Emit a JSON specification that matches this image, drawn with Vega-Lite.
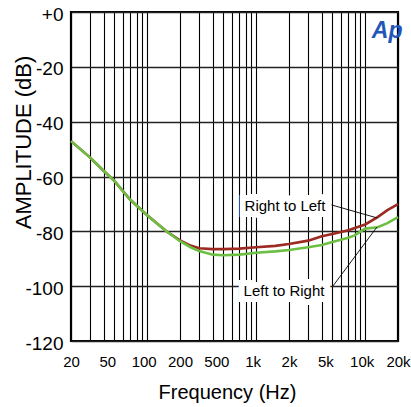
{
  "$schema": "https://vega.github.io/schema/vega-lite/v6.json",
  "width": 327,
  "height": 329,
  "autosize": {"type": "none"},
  "padding": {"left": 71, "top": 12, "right": 13, "bottom": 66},
  "background": "white",
  "config": {
    "view": {"stroke": "black", "strokeWidth": 2.2},
    "font": "Liberation Sans"
  },
  "datasets": {
    "curves": [
      {"f": 20, "db": -47.1, "s": "Right to Left"},
      {"f": 30, "db": -53.1, "s": "Right to Left"},
      {"f": 40, "db": -58.0, "s": "Right to Left"},
      {"f": 50, "db": -61.6, "s": "Right to Left"},
      {"f": 70, "db": -68.5, "s": "Right to Left"},
      {"f": 100, "db": -74.1, "s": "Right to Left"},
      {"f": 150, "db": -80.0, "s": "Right to Left"},
      {"f": 200, "db": -83.3, "s": "Right to Left"},
      {"f": 250, "db": -85.2, "s": "Right to Left"},
      {"f": 300, "db": -86.2, "s": "Right to Left"},
      {"f": 400, "db": -86.5, "s": "Right to Left"},
      {"f": 500, "db": -86.5, "s": "Right to Left"},
      {"f": 700, "db": -86.3, "s": "Right to Left"},
      {"f": 1000, "db": -85.8, "s": "Right to Left"},
      {"f": 1500, "db": -85.3, "s": "Right to Left"},
      {"f": 2000, "db": -84.6, "s": "Right to Left"},
      {"f": 3000, "db": -83.4, "s": "Right to Left"},
      {"f": 4000, "db": -81.8, "s": "Right to Left"},
      {"f": 5000, "db": -81.0, "s": "Right to Left"},
      {"f": 7000, "db": -79.6, "s": "Right to Left"},
      {"f": 10000, "db": -77.5, "s": "Right to Left"},
      {"f": 13000, "db": -74.8, "s": "Right to Left"},
      {"f": 16000, "db": -72.3, "s": "Right to Left"},
      {"f": 20000, "db": -70.1, "s": "Right to Left"},
      {"f": 20, "db": -47.1, "s": "Left to Right"},
      {"f": 30, "db": -53.1, "s": "Left to Right"},
      {"f": 40, "db": -58.0, "s": "Left to Right"},
      {"f": 50, "db": -61.6, "s": "Left to Right"},
      {"f": 70, "db": -68.5, "s": "Left to Right"},
      {"f": 100, "db": -74.1, "s": "Left to Right"},
      {"f": 150, "db": -80.0, "s": "Left to Right"},
      {"f": 200, "db": -83.6, "s": "Left to Right"},
      {"f": 250, "db": -85.8, "s": "Left to Right"},
      {"f": 300, "db": -87.2, "s": "Left to Right"},
      {"f": 400, "db": -88.5, "s": "Left to Right"},
      {"f": 500, "db": -88.7, "s": "Left to Right"},
      {"f": 700, "db": -88.5, "s": "Left to Right"},
      {"f": 1000, "db": -87.8, "s": "Left to Right"},
      {"f": 1500, "db": -87.3, "s": "Left to Right"},
      {"f": 2000, "db": -86.8, "s": "Left to Right"},
      {"f": 3000, "db": -85.8, "s": "Left to Right"},
      {"f": 4000, "db": -85.0, "s": "Left to Right"},
      {"f": 5000, "db": -83.9, "s": "Left to Right"},
      {"f": 7000, "db": -82.3, "s": "Left to Right"},
      {"f": 8000, "db": -81.5, "s": "Left to Right"},
      {"f": 10000, "db": -79.0, "s": "Left to Right"},
      {"f": 13000, "db": -78.5, "s": "Left to Right"},
      {"f": 16000, "db": -77.0, "s": "Left to Right"},
      {"f": 20000, "db": -74.8, "s": "Left to Right"}
    ],
    "notes": [
      {"label": "Right to Left", "tf": 1838, "tdb": -70.8, "f1": 4560, "db1": -70.0, "f2": 12830, "db2": -75.1},
      {"label": "Left to Right", "tf": 1800, "tdb": -101.8, "f1": 5070, "db1": -99.9, "f2": 12830, "db2": -78.4}
    ],
    "ticklabels": [
      {"label": "20"}, {"label": "50"}, {"label": "100"}, {"label": "200"}, {"label": "500"},
      {"label": "1k"}, {"label": "2k"}, {"label": "5k"}, {"label": "10k"}, {"label": "20k"}
    ]
  },
  "resolve": {"scale": {"x": "independent"}, "axis": {"x": "independent"}},
  "layer": [
    {
      "layer": [
        {
          "data": {"name": "curves"},
          "mark": {"type": "line", "strokeWidth": 2.6},
          "encoding": {
            "x": {
              "field": "f", "type": "quantitative",
              "scale": {"type": "log", "domain": [20, 20000], "nice": false},
              "axis": {
                "orient": "bottom", "title": null, "labels": false, "ticks": false, "domain": false,
                "grid": true, "gridColor": "black", "gridWidth": 1.1, "gridOpacity": 1,
                "values": [20, 30, 40, 50, 60, 70, 80, 90, 100, 200, 300, 400, 500, 600, 700, 800, 900, 1000, 2000, 3000, 4000, 5000, 6000, 7000, 8000, 9000, 10000, 20000]
              }
            },
            "y": {
              "field": "db", "type": "quantitative",
              "scale": {"domain": [-120, 0], "nice": false, "zero": false},
              "axis": {
                "values": [-120, -100, -80, -60, -40, -20, 0],
                "labelExpr": "datum.value == 0 ? '+0' : '-' + abs(datum.value)",
                "title": "AMPLITUDE (dB)",
                "titleFontSize": 22, "titleFontWeight": "normal", "titleColor": "black",
                "titleAngle": 270, "titleX": -41, "titleY": 130, "titleBaseline": "alphabetic", "titleAlign": "center",
                "grid": true, "gridColor": "#222222", "gridWidth": 1.6, "gridOpacity": 1,
                "ticks": false, "domain": false,
                "labelFontSize": 19, "labelColor": "black", "labelPadding": 8, "labelOffset": 2
              }
            },
            "color": {
              "field": "s", "type": "nominal",
              "scale": {"domain": ["Right to Left", "Left to Right"], "range": ["#9c2a22", "#6cbf43"]},
              "legend": null
            }
          }
        },
        {
          "data": {"name": "notes"},
          "mark": {"type": "rule", "color": "black", "strokeWidth": 0.9},
          "encoding": {
            "x": {"field": "f1", "type": "quantitative"},
            "x2": {"field": "f2"},
            "y": {"field": "db1", "type": "quantitative"},
            "y2": {"field": "db2"}
          }
        },
        {
          "data": {"name": "notes"},
          "mark": {"type": "text", "fontSize": 15, "stroke": "white", "strokeWidth": 12, "strokeJoin": "miter", "fill": "white", "align": "center", "baseline": "middle"},
          "encoding": {
            "x": {"field": "tf", "type": "quantitative"},
            "y": {"field": "tdb", "type": "quantitative"},
            "text": {"field": "label"}
          }
        },
        {
          "data": {"name": "notes"},
          "mark": {"type": "text", "fontSize": 15, "color": "black", "align": "center", "baseline": "middle"},
          "encoding": {
            "x": {"field": "tf", "type": "quantitative"},
            "y": {"field": "tdb", "type": "quantitative"},
            "text": {"field": "label"}
          }
        },
        {
          "data": {"values": [{"name": "Ap"}]},
          "mark": {"type": "text", "fontSize": 23, "fontWeight": "bold", "fontStyle": "italic", "color": "#2456b8", "align": "center", "baseline": "middle"},
          "encoding": {
            "x": {"datum": 15900, "type": "quantitative"},
            "y": {"datum": -6.9, "type": "quantitative"},
            "text": {"field": "name"}
          }
        }
      ]
    },
    {
      "data": {"name": "ticklabels"},
      "mark": {"type": "point", "opacity": 0},
      "encoding": {
        "x": {
          "field": "label", "type": "ordinal", "sort": null,
          "scale": {"type": "point", "padding": 0},
          "axis": {
            "orient": "bottom", "title": "Frequency (Hz)",
            "ticks": false, "domain": false, "grid": false,
            "labelAngle": 0,
            "labelFontSize": 15, "labelColor": "black", "labelPadding": 13,
            "titleFontSize": 20, "titleFontWeight": "normal", "titleColor": "black",
            "titleX": 156, "titleY": 57, "titleBaseline": "alphabetic", "titleAlign": "center"
          }
        }
      }
    }
  ]
}
